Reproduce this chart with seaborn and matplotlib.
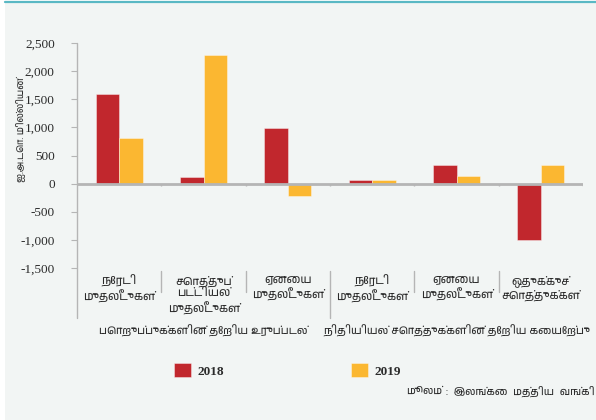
import matplotlib
matplotlib.use("Agg")
import matplotlib.pyplot as plt
import matplotlib.transforms as mtransforms
from matplotlib import font_manager
from matplotlib.ft2font import FT2Font
from matplotlib.patches import Rectangle
from matplotlib.lines import Line2D
import seaborn as sns
import pandas as pd

# Data (US$ million)
cat_ids = ["liab_fdi", "liab_port", "liab_other", "asset_fdi", "asset_other", "asset_reserve"]
cat_labels = ["நேரடி\nமுதலீடுகள்", "சொத்துப்\nபட்டியல்\nமுதலீடுகள்", "ஏனைய\nமுதலீடுகள்",
              "நேரடி\nமுதலீடுகள்", "ஏனைய\nமுதலீடுகள்", "ஒதுக்குச்\nசொத்துக்கள்"]
values_2018 = [1600, 110, 990, 60, 340, -1010]
values_2019 = [820, 2290, -220, 60, 130, 330]
years = ["2018", "2019"]
group_labels = ["பொறுப்புக்களின் தேறிய உருப்படல்", "நிதியியல் சொத்துக்களின் தேறிய கையேற்பு"]
y_label = "ஐ.அ.டொ. மில்லியன்"
source_italic = "மூலம்"
source_rest = " :  இலங்கை  மத்திய  வங்கி"

df = pd.DataFrame({
    "cat": cat_ids * 2,
    "year": [years[0]] * 6 + [years[1]] * 6,
    "value": values_2018 + values_2019,
})

# find a font with Tamil glyphs, if any is installed
def find_tamil_font():
    preferred = []
    others = []
    for f in font_manager.fontManager.ttflist:
        try:
            cmap = FT2Font(f.fname).get_charmap()
        except Exception:
            continue
        if 0x0BA8 in cmap and 0x0BAE in cmap:
            if "Tamil" in f.name:
                preferred.append(f.name)
            else:
                others.append(f.name)
    found = preferred + others
    return found[0] if found else None

sns.set_theme(style="white")
tamil = find_tamil_font()
fam = ([tamil] if tamil else []) + ["DejaVu Sans"]
num_font = "Liberation Serif"
plt.rcParams["font.family"] = fam

bg = "#f2f5f4"
red = "#c1272d"
orange = "#fbb731"
grey = "#b5b5b5"
text_c = "#2b2b2b"

fig = plt.figure(figsize=(5.96, 4.2), dpi=100)
fig.patch.set_facecolor("white")
fig.patches.append(Rectangle((5 / 596, 0), 1, 1 - 3 / 420, transform=fig.transFigure,
                             facecolor=bg, edgecolor="none", zorder=-10))
fig.lines.append(Line2D([5 / 596, 1], [1 - 2 / 420] * 2, transform=fig.transFigure,
                        color="#5ab8c4", lw=1.6))

ax = fig.add_axes([77 / 596, (420 - 268) / 420, 506 / 596, 225 / 420])
ax.set_facecolor(bg)

sns.barplot(data=df, x="cat", y="value", hue="year", order=cat_ids,
            palette=[red, orange], saturation=1, width=0.56, ax=ax, legend=True,
            edgecolor=(1, 1, 1, 0.45), linewidth=0.6, zorder=2)

ax.set_ylim(-1500, 2500)
ax.set_xlim(-0.5, 5.5)
ax.set_yticks(range(-1500, 2501, 500))
ax.set_yticklabels([f"{v:,}" for v in range(-1500, 2501, 500)],
                   fontfamily=num_font, fontsize=9.5, color=text_c)
ax.tick_params(axis="y", length=4, width=0.8, color=grey, pad=12, left=True)
ax.set_ylabel("")
fig.text(21 / 596, 1 - 130 / 420, y_label, rotation=90, ha="center", va="center",
         fontsize=6.8, color=text_c)

for s in ["top", "right", "bottom", "left"]:
    ax.spines[s].set_visible(False)

# zero line with boundary ticks
ax.axhline(0, color=grey, lw=2, zorder=3)
bounds = [0.5, 1.5, 2.5, 3.5, 4.5, 5.5]
ax.vlines(bounds, -45, 0, color=grey, lw=1, zorder=3)

# left spine running down into the label area
ax.plot([0, 0], [1.0, -0.222], transform=ax.transAxes, color=grey, lw=1, clip_on=False)
trans = mtransforms.blended_transform_factory(ax.transData, ax.transAxes)
for b in bounds[:-1]:
    low = -0.222 if b == 2.5 else -0.107
    ax.plot([b, b], [-0.015, low], transform=trans, color=grey, lw=1, clip_on=False)

ax.set_xticks(range(6))
ax.set_xticklabels(cat_labels, fontsize=8.2, color=text_c, linespacing=1.25)
ax.tick_params(axis="x", length=0, pad=5)
ax.set_xlabel("")

ax.text(1, -0.28, group_labels[0], transform=trans, ha="center", va="center",
        fontsize=7.8, color=text_c)
ax.text(4, -0.28, group_labels[1], transform=trans, ha="center", va="center",
        fontsize=7.8, color=text_c)

handles, labels = ax.get_legend_handles_labels()
ax.legend_.remove()
fig.legend(handles, labels, loc="upper left", bbox_to_anchor=(174 / 596, 1 - 363 / 420),
           ncol=2, frameon=False, borderpad=0, borderaxespad=0,
           handlelength=1.3, handleheight=1.3, handletextpad=0.5, columnspacing=9.6,
           prop={"family": num_font, "size": 9.5, "weight": "bold"}, labelcolor=text_c)

fig.text(595 / 596, 1 - 391 / 420, source_rest, ha="right", va="center",
         fontsize=7.5, color=text_c)
src = fig.text(0, 1 - 391 / 420, source_italic, ha="right", va="center",
               fontsize=7.5, color=text_c, style="italic")
fig.canvas.draw()
r = fig.canvas.get_renderer()
w = fig.texts[-2].get_window_extent(r).width
src.set_x((595 - w - 1) / 596)

fig.savefig("out.png", dpi=100, facecolor=fig.get_facecolor())
